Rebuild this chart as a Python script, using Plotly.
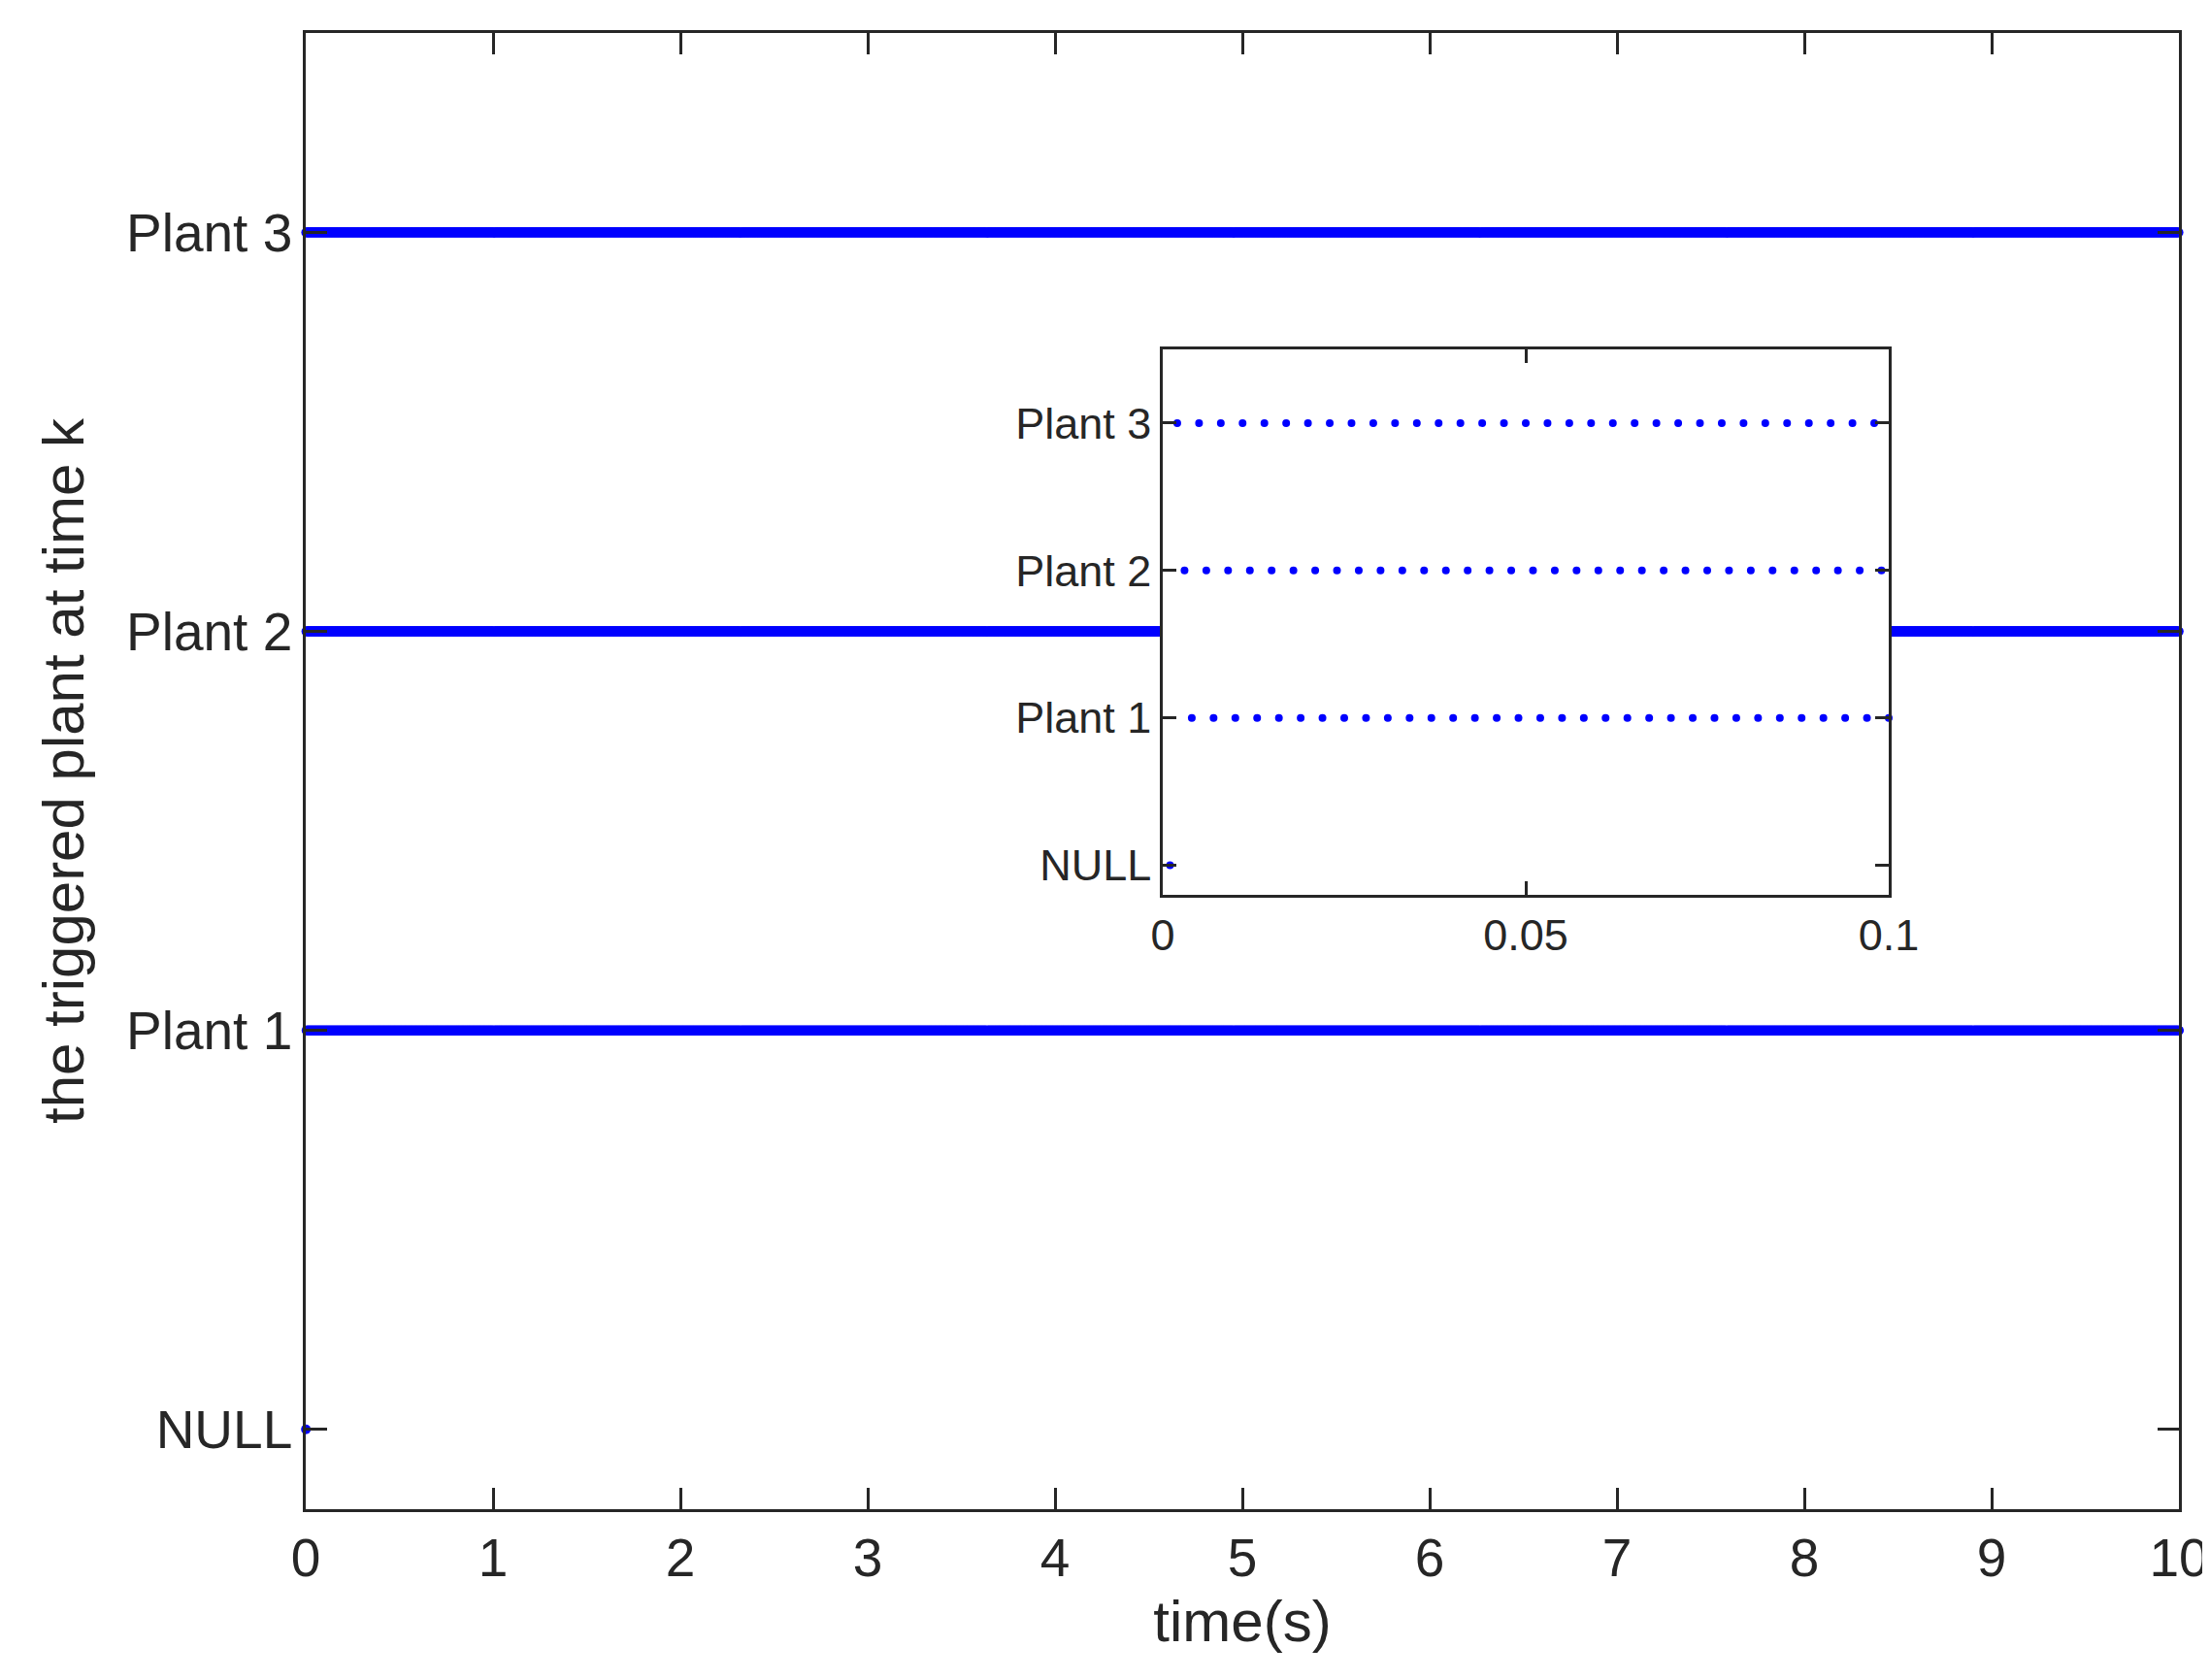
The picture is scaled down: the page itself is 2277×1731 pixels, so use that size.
import numpy as np
import plotly.graph_objects as go

# schedule: index 0 -> NULL at t=0.001, then cycle Plant3, Plant2, Plant1
dt = 0.001
cycle = [3, 2, 1]
n_steps = 10000
t = np.arange(1, n_steps + 1) * dt
plant = np.array([0] + [cycle[i % 3] for i in range(n_steps - 1)])
ytick_vals = [0, 1, 2, 3]
ytick_text = ["NULL", "Plant 1", "Plant 2", "Plant 3"]
xticks_main = list(range(0, 11))
xticks_inset = [0, 0.05, 0.1]
x_range_inset = [0, 0.1]
y_range = [-0.2, 3.5]

blue = "#0000FF"
fig = go.Figure()
fig.add_trace(go.Scatter(x=t, y=plant, mode="markers",
                         marker=dict(color=blue, size=10), xaxis="x", yaxis="y", cliponaxis=False))
# white backdrop for inset
fig.add_trace(go.Scatter(x=[x_range_inset[0], x_range_inset[1], x_range_inset[1], x_range_inset[0]],
                         y=[y_range[0], y_range[0], y_range[1], y_range[1]], fill="toself",
                         fillcolor="white", mode="none", xaxis="x2", yaxis="y2", hoverinfo="skip"))
mask = t <= 0.1005
fig.add_trace(go.Scatter(x=t[mask], y=plant[mask], mode="markers",
                         marker=dict(color=blue, size=8), xaxis="x2", yaxis="y2", cliponaxis=False))
W, H = 2277, 1731
L, R, T, B = 307, 2237, 26, 1547
iL, iR, iT, iB = 1190, 1938, 352, 914
ax = dict(showgrid=False, zeroline=False, showline=True, mirror="ticks", linecolor="#262626",
          linewidth=2.5, ticks="inside", tickcolor="#262626", tickwidth=2.5, automargin=False)
fig.update_layout(
    width=W, height=H, margin=dict(l=0, r=0, t=0, b=0), showlegend=False,
    paper_bgcolor="white", plot_bgcolor="white",
    font=dict(family="Liberation Sans, Arial", color="#262626", size=55),
    xaxis=dict(**ax, ticklen=22, domain=[L / W, R / W], range=[0, 10], tickvals=xticks_main,
               title=dict(text="time(s)", font=dict(size=60), standoff=15)),
    yaxis=dict(**ax, ticklen=22, domain=[1 - B / H, 1 - T / H], range=y_range,
               tickvals=ytick_vals, ticktext=ytick_text,
               title=dict(text="the triggered plant at time k", font=dict(size=60), standoff=25)),
    xaxis2=dict(**ax, ticklen=14, domain=[iL / W, iR / W], range=x_range_inset, tickvals=xticks_inset,
                ticktext=["0", "0.05", "0.1"], anchor="y2", tickfont=dict(size=45)),
    yaxis2=dict(**ax, ticklen=14, domain=[1 - iB / H, 1 - iT / H], range=y_range, anchor="x2",
                tickvals=ytick_vals, ticktext=ytick_text, tickfont=dict(size=45)),
)
fig.write_html("out.html")
